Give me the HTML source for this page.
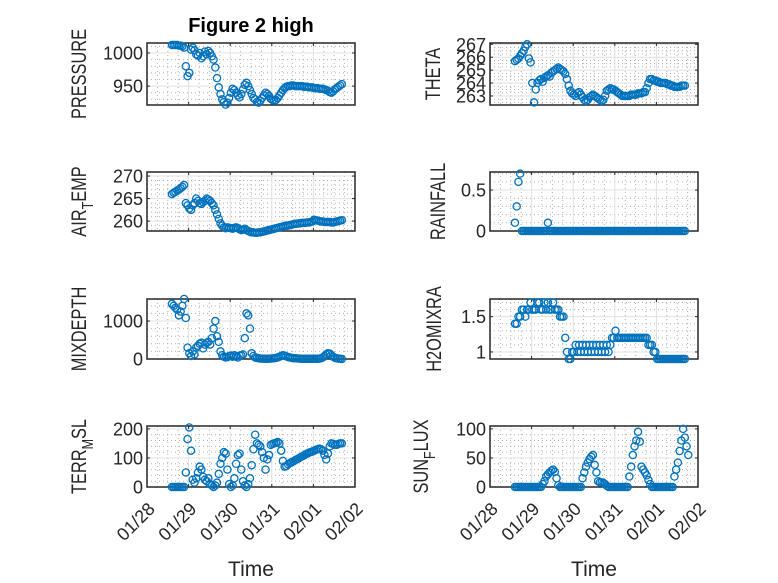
<!DOCTYPE html>
<html><head><meta charset="utf-8"><style>
body{margin:0;background:#fff}
svg{display:block;font-family:"Liberation Sans","DejaVu Sans",sans-serif}
</style></head><body>
<svg id="fig" width="778" height="583" viewBox="0 0 778 583">
<rect width="778" height="583" fill="#fff"/>
<text x="251" y="32" text-anchor="middle" font-size="20" font-weight="bold" fill="#000">Figure 2 high</text>
<text x="251" y="576" text-anchor="middle" font-size="21" fill="#262626">Time</text>
<text x="594" y="576" text-anchor="middle" font-size="21" fill="#262626">Time</text>
</svg>
<script>
const xTickLabels = ["01/28","01/29","01/30","01/31","02/01","02/02"];
const startDay = 0.6;
const pressure = [1012,1012,1012,1012,1011,1011,1010,1008, 980,965,970,1005,
 1008,1004,998,996,1000,992,995,1002,998,1003,1000,995,
 990,978,962,948,938,930,926,922,
 925,932,940,946,944,940,936,933,938,945,952,955,950,944,938,932,
 930,926,925,928,932,936,940,938,935,931,929,928,929,932,936,940,944,947,949,950,950,951,951,950,
 950,950,950,950,949,949,949,948,948,948,947,947,947,946,946,946,945,944,943,941,940,942,945,947,949,951,953];
const theta = [265.7,265.8,265.9,266.1,266.3,266.5,266.8,267, 265.9,265.6,264,262.5,
 263.5,264,264.2,264.3,264.1,264.4,264.5,264.6,264.5,264.8,264.9,265,
 265.1,265.2,265.1,265,264.9,264.7,264.3,263.8,
 263.4,263.2,263.1,263,263.2,263.3,263.1,262.9,262.7,262.6,262.7,262.9,263,263.1,263,262.9,
 262.8,262.7,262.6,262.7,263,263.4,263.5,263.6,263.5,263.5,263.4,263.3,263.2,263.1,263,263,263,263,263,263.1,263.1,263.1,263.1,263.2,
 263.2,263.2,263.3,263.3,263.6,264,264.3,264.3,264.2,264.2,264.1,264.1,264,264,264,264,263.9,263.9,263.8,263.8,263.7,263.7,263.7,263.7,
 263.8,263.8,263.8];
const airTemp = [266,266.3,266.5,266.8,267,267.3,267.6,268, 264,263.5,262.8,262.5,
 263.5,264,265,264.5,264,263.8,264.2,264.5,265,264.8,264.5,264,
 263.5,262.5,261.5,260.5,259.5,259,258.6,258.4,
 258.6,258.5,258.4,258.3,258.5,258.6,258.4,258.2,258,258.1,258.3,258,257.8,257.6,257.5,257.5,
 257.4,257.4,257.5,257.5,257.6,257.7,257.8,257.9,258,258.1,258.2,258.3,258.4,258.5,258.6,258.7,258.8,258.9,259,259,259.1,259.2,259.3,259.4,
 259.4,259.5,259.5,259.6,259.6,259.6,259.7,259.7,259.8,259.9,260.3,260.2,260.1,260,259.9,259.9,259.8,259.8,259.8,259.8,259.7,259.7,259.8,259.9,
 260,260.1,260.2];
const rainfall = [0.1,0.3,0.6,0.7,0,0,0,0,0,0,0,0,0,0,0,0,0,0,0,0.1,0,0,0,0,
 0,0,0,0,0,0,0,0,0,0,0,0,0,0,0,0,0,0,0,0,0,0,0,0,
 0,0,0,0,0,0,0,0,0,0,0,0,0,0,0,0,0,0,0,0,0,0,0,0,
 0,0,0,0,0,0,0,0,0,0,0,0,0,0,0,0,0,0,0,0,0,0,0,0,0,0,0];
const mixDepth = [1450,1400,1350,1300,1150,1250,1400,1580, 1080,300,150,80,
 200,120,300,350,400,430,280,380,420,450,380,550,
 800,1000,600,450,200,100,60,40,
 50,80,90,60,100,70,40,90,100,120,550,1200,1150,800,150,80,
 40,30,20,10,10,5,5,5,10,10,15,20,30,40,60,80,100,90,70,50,40,30,20,20,
 15,10,10,5,5,5,5,5,5,5,5,5,5,10,20,40,80,120,150,140,100,60,30,20,
 10,5,0];
const h2oMix = [1.4,1.4,1.5,1.5,1.6,1.6,1.5,1.6, 1.6,1.7,1.6,1.6,
 1.6,1.7,1.7,1.6,1.6,1.7,1.6,1.7,1.6,1.6,1.7,1.6,
 1.6,1.6,1.5,1.5,1.5,1.2,1.0,0.9,
 0.9,1.0,1.0,1.1,1.0,1.1,1.0,1.1,1.0,1.1,1.0,1.1,1.0,1.1,1.0,1.1,
 1.0,1.1,1.0,1.1,1.0,1.1,1.0,1.1,1.2,1.2,1.3,1.2,1.2,1.2,1.2,1.2,1.2,1.2,1.2,1.2,1.2,1.2,1.2,1.2,
 1.2,1.2,1.2,1.2,1.2,1.1,1.1,1.1,1.0,1.0,0.9,0.9,0.9,0.9,0.9,0.9,0.9,0.9,0.9,0.9,0.9,0.9,0.9,0.9,
 0.9,0.9,0.9];
const terrMsl = [0,0,0,0,0,0,0,0, 50,165,205,125,
 25,15,30,50,70,60,35,25,20,30,10,5,
 0,5,15,45,80,100,120,115,
 60,10,0,5,30,80,110,115,60,20,5,0,10,30,75,130,
 180,150,145,140,120,100,60,95,110,145,148,150,152,155,150,125,90,70,72,78,82,85,88,92,
 95,98,102,105,108,112,115,118,120,122,125,128,130,132,130,125,110,95,115,140,150,148,145,145,
 148,150,150];
const sunFlux = [0,0,0,0,0,0,0,0,0,0,0,0,0,0,0,0, 5,10,18,22,25,28,30,26,
 15,3,0,0,0,0,0,0,
 0,0,0,0,0,0,0,15,25,35,42,48,52,55,38,25,
 10,8,8,7,5,2,0,0,0,0,0,0,0,0,0,0,0,0,18,35,55,70,80,95,
 78,35,30,25,20,12,5,0,0,0,0,0,0,0,0,0,0,0,0,0,18,30,42,62,80,100,
 85,70,55];
const pressureTicks=[950,1000], thetaTicks=[263,264,265,266,267], airTempTicks=[260,265,270],
 rainTicks=[0,0.5], mixTicks=[0,1000], h2oTicks=[1,1.5], terrTicks=[0,100,200], sunTicks=[0,50,100];

const NS="http://www.w3.org/2000/svg";
const svg=document.getElementById('fig');
function mk(tag,attrs,parent){const e=document.createElementNS(NS,tag);for(const k in attrs)e.setAttribute(k,attrs[k]);(parent||svg).appendChild(e);return e;}

const L={x0:147,x1:355}, R={x0:490,x1:698};
const rows=[[43,105],[172,231],[299,359],[426,487]];
const panels=[
 {key:'pressure',col:L,row:0,ylim:[921.5,1015],ticks:pressureTicks,minor:10,data:pressure,label:['PRESSURE'],lx:86},
 {key:'theta',col:R,row:0,ylim:[262.3,267.1],ticks:thetaTicks,minor:0.25,data:theta,label:['THETA'],lx:440},
 {key:'air-temp',col:L,row:1,ylim:[257.8,270.9],ticks:airTempTicks,minor:1,data:airTemp,label:['AIR','T','EMP'],lx:86},
 {key:'rainfall',col:R,row:1,ylim:[0,0.72],ticks:rainTicks,minor:0.1,data:rainfall,label:['RAINFALL'],lx:445},
 {key:'mixdepth',col:L,row:2,ylim:[0,1580],ticks:mixTicks,minor:200,data:mixDepth,label:['MIXDEPTH'],lx:86},
 {key:'h2omixra',col:R,row:2,ylim:[0.9,1.75],ticks:h2oTicks,minor:0.1,data:h2oMix,label:['H2OMIXRA'],lx:441},
 {key:'terr-msl',col:L,row:3,ylim:[0,210],ticks:terrTicks,minor:20,data:terrMsl,label:['TERR','M','SL'],lx:86},
 {key:'sun-flux',col:R,row:3,ylim:[0,105],ticks:sunTicks,minor:10,data:sunFlux,label:['SUN','F','LUX'],lx:428},
];
panels.forEach(p=>{
 const x0=p.col.x0,x1=p.col.x1,y0=rows[p.row][0],y1=rows[p.row][1];
 const xs=d=>x0+(x1-x0)*d/5;
 const ys=v=>y1-(y1-y0)*(v-p.ylim[0])/(p.ylim[1]-p.ylim[0]);
 const g=mk('g',{});
 
 
 mk('rect',{x:x0,y:y0,width:x1-x0,height:y1-y0,fill:'#fff'},g);
 for(let d=0.25;d<5;d+=0.25){ if(Math.abs(d-Math.round(d))<1e-6)continue;
  mk('line',{x1:xs(d),x2:xs(d),y1:y0,y2:y1,stroke:'#b0b0b0','stroke-width':1,'stroke-dasharray':'1,3'},g);}
 const m0=Math.ceil(p.ylim[0]/p.minor)*p.minor;
 for(let v=m0;v<p.ylim[1];v+=p.minor){ const vv=Math.round(v*1000)/1000; if(p.ticks.some(t=>Math.abs(t-vv)<1e-6))continue;
  mk('line',{x1:x0,x2:x1,y1:ys(vv),y2:ys(vv),stroke:'#b0b0b0','stroke-width':1,'stroke-dasharray':'1,3'},g);}
 for(let d=1;d<5;d++) mk('line',{x1:xs(d),x2:xs(d),y1:y0,y2:y1,stroke:'#e0e0e0','stroke-width':1},g);
 p.ticks.forEach(t=>mk('line',{x1:x0,x2:x1,y1:ys(t),y2:ys(t),stroke:'#e0e0e0','stroke-width':1},g));
 mk('rect',{x:x0,y:y0,width:x1-x0,height:y1-y0,fill:'none',stroke:'#262626','stroke-width':1.5},g);
 for(let d=0;d<=5;d++){ mk('line',{x1:xs(d),x2:xs(d),y1:y1,y2:y1-3,stroke:'#262626'},g); mk('line',{x1:xs(d),x2:xs(d),y1:y0,y2:y0+3,stroke:'#262626'},g);}
 p.ticks.forEach(t=>{
  mk('line',{x1:x0,x2:x0+3,y1:ys(t),y2:ys(t),stroke:'#262626'},g);
  mk('line',{x1:x1,x2:x1-3,y1:ys(t),y2:ys(t),stroke:'#262626'},g);
  const tx=mk('text',{x:x0-4,y:ys(t)+6.5,'text-anchor':'end','font-size':18,fill:'#262626'},g);
  
  
  tx.textContent=String(t);
 });
 if(p.row===3){
  xTickLabels.forEach((lab,i)=>{
   const tx=mk('text',{x:0,y:0,'text-anchor':'end','font-size':18,fill:'#262626',transform:`translate(${xs(i)+9},${y1+23}) rotate(-45)`},g);
   
   
   tx.textContent=lab;
  });
 }
 const yc=(y0+y1)/2;
 const lt=mk('text',{x:0,y:0,'text-anchor':'middle','font-size':21,fill:'#262626',transform:`translate(${p.lx},${yc}) rotate(-90) scale(0.78,1)`},g);
 
 
 if(p.label.length===1){lt.textContent=p.label[0];}
 else{
  const a=mk('tspan',{},lt);a.textContent=p.label[0];
  const b=mk('tspan',{dy:7,'font-size':16},lt);b.textContent=p.label[1];
  const c=mk('tspan',{dy:-7},lt);c.textContent=p.label[2];
 }
 const mg=mk('g',{fill:'none',stroke:'#0072BD','stroke-width':1.3},g);
 
 
 p.data.forEach((v,i)=>{
  const c=mk('circle',{cx:xs(startDay+i/24),cy:ys(v),r:3.6},mg);
  
  
 });
});
</script>
</body></html>
